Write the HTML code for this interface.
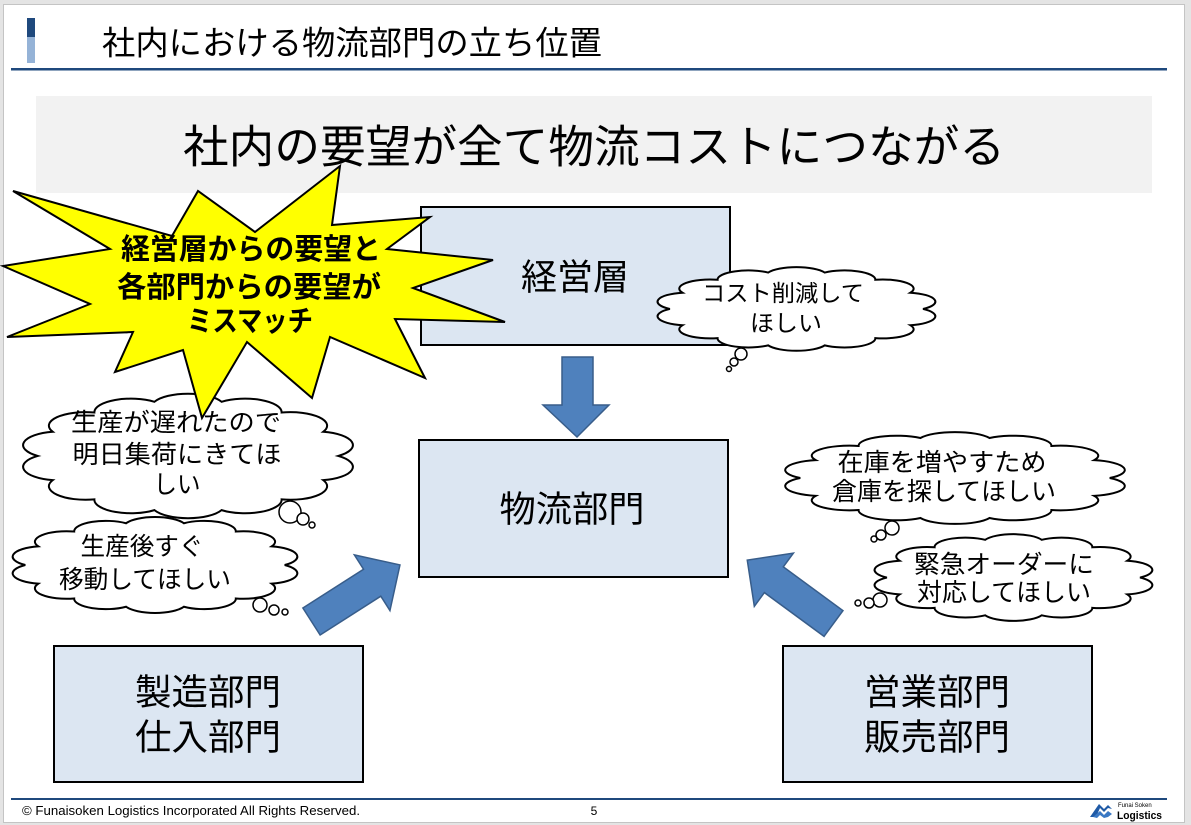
<!DOCTYPE html>
<html><head><meta charset="utf-8">
<style>
html,body{margin:0;padding:0;background:#e4e4e4;}
svg{display:block;}
text{font-family:"Liberation Sans","Noto Sans CJK JP",sans-serif;fill:#000;}
</style></head>
<body>
<svg width="1191" height="825" viewBox="0 0 1191 825" xmlns="http://www.w3.org/2000/svg">
<!-- page background & slide -->
<rect x="0" y="0" width="1191" height="825" fill="#e4e4e4"/>
<rect x="3.5" y="4.5" width="1181" height="818" fill="#ffffff" stroke="#c4c4c4" stroke-width="1"/>

<!-- title -->
<rect x="27" y="18" width="8" height="19" fill="#1f497d"/>
<rect x="27" y="37" width="8" height="26" fill="#95b3d7"/>
<text x="102" y="43" font-size="33" dominant-baseline="central" textLength="500" lengthAdjust="spacingAndGlyphs">社内における物流部門の立ち位置</text>
<rect x="11" y="68" width="1156" height="2.5" fill="#1f497d"/>

<!-- heading band -->
<rect x="36" y="96" width="1116" height="97" fill="#f2f2f2"/>
<text x="594" y="147" font-size="45" text-anchor="middle" dominant-baseline="central" textLength="822" lengthAdjust="spacingAndGlyphs">社内の要望が全て物流コストにつながる</text>

<!-- boxes -->
<rect x="421" y="207" width="309" height="138" fill="#dce6f2" stroke="#000" stroke-width="2"/>
<text x="575" y="277" font-size="36" text-anchor="middle" dominant-baseline="central" textLength="108" lengthAdjust="spacingAndGlyphs">経営層</text>

<rect x="419" y="440" width="309" height="137" fill="#dce6f2" stroke="#000" stroke-width="2"/>
<text x="572" y="509" font-size="36" text-anchor="middle" dominant-baseline="central" textLength="145" lengthAdjust="spacingAndGlyphs">物流部門</text>

<rect x="54" y="646" width="309" height="136" fill="#dce6f2" stroke="#000" stroke-width="2"/>
<text x="208" y="692" font-size="36" text-anchor="middle" dominant-baseline="central" textLength="146" lengthAdjust="spacingAndGlyphs">製造部門</text>
<text x="208" y="737" font-size="36" text-anchor="middle" dominant-baseline="central" textLength="146" lengthAdjust="spacingAndGlyphs">仕入部門</text>

<rect x="783" y="646" width="309" height="136" fill="#dce6f2" stroke="#000" stroke-width="2"/>
<text x="937" y="692" font-size="36" text-anchor="middle" dominant-baseline="central" textLength="146" lengthAdjust="spacingAndGlyphs">営業部門</text>
<text x="937" y="737" font-size="36" text-anchor="middle" dominant-baseline="central" textLength="146" lengthAdjust="spacingAndGlyphs">販売部門</text>

<!-- arrows -->
<polygon points="562,357 593,357 593,405 609,405 577,437 543,405 562,405" fill="#4f81bd" stroke="#385d8a" stroke-width="1.5"/>
<g transform="translate(311.5,621.5) rotate(-32.6)">
<polygon points="0,-16 72,-16 72,-33 105,0 72,33 72,16 0,16" fill="#4f81bd" stroke="#385d8a" stroke-width="1.5"/>
</g>
<g transform="translate(833.5,623.5) rotate(-143.7)">
<polygon points="0,-16 74,-16 74,-33 107,0 74,33 74,16 0,16" fill="#4f81bd" stroke="#385d8a" stroke-width="1.5"/>
</g>

<!-- clouds -->
<g fill="#fff" stroke="#000" stroke-width="2">
<path transform="translate(13.3,391.3) scale(3.494,1.293)" vector-effect="non-scaling-stroke" d="M7,50 A10.5,10.5 0 0 1 11.3,31.3 A10.5,10.5 0 0 1 23.2,16.4 A10.5,10.5 0 0 1 40.4,8.1 A10.5,10.5 0 0 1 59.6,8.1 A10.5,10.5 0 0 1 76.8,16.4 A10.5,10.5 0 0 1 88.7,31.3 A10.5,10.5 0 0 1 93,50 A10.5,10.5 0 0 1 88.7,68.7 A10.5,10.5 0 0 1 76.8,83.6 A10.5,10.5 0 0 1 59.6,91.9 A10.5,10.5 0 0 1 40.4,91.9 A10.5,10.5 0 0 1 23.2,83.6 A10.5,10.5 0 0 1 11.3,68.7 A10.5,10.5 0 0 1 7,50 Z"/>
<path transform="translate(4.2,515.2) scale(3.016,0.996)" vector-effect="non-scaling-stroke" d="M7,50 A10.5,10.5 0 0 1 11.3,31.3 A10.5,10.5 0 0 1 23.2,16.4 A10.5,10.5 0 0 1 40.4,8.1 A10.5,10.5 0 0 1 59.6,8.1 A10.5,10.5 0 0 1 76.8,16.4 A10.5,10.5 0 0 1 88.7,31.3 A10.5,10.5 0 0 1 93,50 A10.5,10.5 0 0 1 88.7,68.7 A10.5,10.5 0 0 1 76.8,83.6 A10.5,10.5 0 0 1 59.6,91.9 A10.5,10.5 0 0 1 40.4,91.9 A10.5,10.5 0 0 1 23.2,83.6 A10.5,10.5 0 0 1 11.3,68.7 A10.5,10.5 0 0 1 7,50 Z"/>
<path transform="translate(775.1,430.3) scale(3.598,0.954)" vector-effect="non-scaling-stroke" d="M7,50 A10.5,10.5 0 0 1 11.3,31.3 A10.5,10.5 0 0 1 23.2,16.4 A10.5,10.5 0 0 1 40.4,8.1 A10.5,10.5 0 0 1 59.6,8.1 A10.5,10.5 0 0 1 76.8,16.4 A10.5,10.5 0 0 1 88.7,31.3 A10.5,10.5 0 0 1 93,50 A10.5,10.5 0 0 1 88.7,68.7 A10.5,10.5 0 0 1 76.8,83.6 A10.5,10.5 0 0 1 59.6,91.9 A10.5,10.5 0 0 1 40.4,91.9 A10.5,10.5 0 0 1 23.2,83.6 A10.5,10.5 0 0 1 11.3,68.7 A10.5,10.5 0 0 1 7,50 Z"/>
<path transform="translate(866.3,532.5) scale(2.943,0.901)" vector-effect="non-scaling-stroke" d="M7,50 A10.5,10.5 0 0 1 11.3,31.3 A10.5,10.5 0 0 1 23.2,16.4 A10.5,10.5 0 0 1 40.4,8.1 A10.5,10.5 0 0 1 59.6,8.1 A10.5,10.5 0 0 1 76.8,16.4 A10.5,10.5 0 0 1 88.7,31.3 A10.5,10.5 0 0 1 93,50 A10.5,10.5 0 0 1 88.7,68.7 A10.5,10.5 0 0 1 76.8,83.6 A10.5,10.5 0 0 1 59.6,91.9 A10.5,10.5 0 0 1 40.4,91.9 A10.5,10.5 0 0 1 23.2,83.6 A10.5,10.5 0 0 1 11.3,68.7 A10.5,10.5 0 0 1 7,50 Z"/>
<path transform="translate(649.3,265.5) scale(2.943,0.869)" vector-effect="non-scaling-stroke" d="M7,50 A10.5,10.5 0 0 1 11.3,31.3 A10.5,10.5 0 0 1 23.2,16.4 A10.5,10.5 0 0 1 40.4,8.1 A10.5,10.5 0 0 1 59.6,8.1 A10.5,10.5 0 0 1 76.8,16.4 A10.5,10.5 0 0 1 88.7,31.3 A10.5,10.5 0 0 1 93,50 A10.5,10.5 0 0 1 88.7,68.7 A10.5,10.5 0 0 1 76.8,83.6 A10.5,10.5 0 0 1 59.6,91.9 A10.5,10.5 0 0 1 40.4,91.9 A10.5,10.5 0 0 1 23.2,83.6 A10.5,10.5 0 0 1 11.3,68.7 A10.5,10.5 0 0 1 7,50 Z"/>
</g>
<!-- thought bubbles -->
<g fill="#fff" stroke="#000" stroke-width="1.5">
<circle cx="741" cy="354" r="6"/><circle cx="734" cy="362" r="4"/><circle cx="729" cy="369" r="2.5"/>
<circle cx="290" cy="512" r="11"/><circle cx="303" cy="519" r="6"/><circle cx="312" cy="525" r="3"/>
<circle cx="260" cy="605" r="7"/><circle cx="274" cy="610" r="5"/><circle cx="285" cy="612" r="3"/>
<circle cx="892" cy="528" r="7"/><circle cx="881" cy="535" r="5"/><circle cx="874" cy="539" r="3"/>
<circle cx="880" cy="600" r="7"/><circle cx="869" cy="603" r="5"/><circle cx="858" cy="603" r="3"/>
</g>

<!-- cloud texts -->
<g font-size="23" text-anchor="middle" dominant-baseline="central">
<text x="783" y="293" textLength="162" lengthAdjust="spacingAndGlyphs">コスト削減して</text>
<text x="786" y="323" textLength="72" lengthAdjust="spacingAndGlyphs">ほしい</text>
</g>
<g font-size="25" text-anchor="middle" dominant-baseline="central">
<text x="142" y="547" textLength="123" lengthAdjust="spacingAndGlyphs">生産後すぐ</text>
<text x="145" y="580" textLength="172" lengthAdjust="spacingAndGlyphs">移動してほしい</text>
<text x="942" y="463" textLength="209" lengthAdjust="spacingAndGlyphs">在庫を増やすため</text>
<text x="944" y="492" textLength="224" lengthAdjust="spacingAndGlyphs">倉庫を探してほしい</text>
<text x="1004" y="565" textLength="180" lengthAdjust="spacingAndGlyphs">緊急オーダーに</text>
<text x="1004" y="593" textLength="174" lengthAdjust="spacingAndGlyphs">対応してほしい</text>
</g>

<!-- starburst -->
<polygon points="340,166 332,225 430,217 387,249 493,260 413,288 505,322 395,319 425,378 330,337 312,398 247,342 202,418 183,350 115,372 133,332 7,337 90,304 3,266 110,249 13,191 172,236 198,191 255,232" fill="#ffff00" stroke="#000" stroke-width="2" stroke-linejoin="miter"/>
<g font-size="29" font-weight="bold" text-anchor="middle" dominant-baseline="central">
<text x="251" y="250" textLength="260" lengthAdjust="spacingAndGlyphs">経営層からの要望と</text>
<text x="249" y="288" textLength="264" lengthAdjust="spacingAndGlyphs">各部門からの要望が</text>
<text x="250" y="322" textLength="126" lengthAdjust="spacingAndGlyphs">ミスマッチ</text>
</g>

<!-- cloud 2 text (over star) -->
<g font-size="25" text-anchor="middle" dominant-baseline="central">
<text x="176" y="423" textLength="210" lengthAdjust="spacingAndGlyphs">生産が遅れたので</text>
<text x="177" y="455" textLength="209" lengthAdjust="spacingAndGlyphs">明日集荷にきてほ</text>
<text x="177" y="485" textLength="47" lengthAdjust="spacingAndGlyphs">しい</text>
</g>

<!-- footer -->
<rect x="11" y="798" width="1156" height="2" fill="#1f497d"/>
<text x="22" y="815" font-size="12.5" textLength="338" lengthAdjust="spacingAndGlyphs">© Funaisoken Logistics Incorporated All Rights Reserved.</text>
<text x="594" y="815" font-size="12" text-anchor="middle">5</text>
<!-- logo -->
<path d="M1090,817 L1099,804 L1104,809 L1108,805 L1112,809 L1108,808 L1104,812 L1100,808 L1096,817 Z" fill="#1f5aa6"/>
<path d="M1093,817 L1100,811 L1104,815 L1108,811 L1112,814 L1108,817 L1104,818 L1100,815 L1097,818 Z" fill="#3a78c4"/>
<text x="1118" y="807" font-size="6" fill="#333">Funai Soken</text>
<text x="1117" y="819" font-size="11" font-weight="bold" fill="#222" textLength="45" lengthAdjust="spacingAndGlyphs">Logistics</text>
</svg>
</body></html>
